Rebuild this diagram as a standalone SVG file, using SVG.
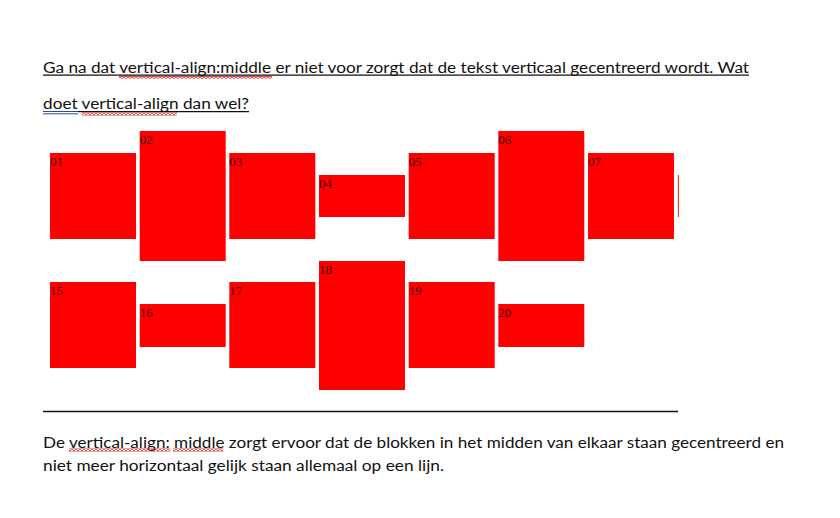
<svg xmlns="http://www.w3.org/2000/svg" width="840" height="518" viewBox="0 0 840 518">
<style>
.t{font-family:Lato,"Open Sans","Liberation Sans",sans-serif;font-size:15.5px;fill:#111}
.b{fill:#ff0000}
.l{font-family:"Liberation Serif","DejaVu Serif",serif;font-size:13px;fill:#3a0000}
.ul{stroke:#111;stroke-width:1.2}
</style>
<defs>
<pattern id="sq" width="4" height="3" patternUnits="userSpaceOnUse">
<path d="M0 2.5 L2 0.5 L4 2.5" fill="none" stroke="#d81818" stroke-width="1.1"/>
</pattern>
</defs>
<rect width="840" height="518" fill="#fff"/>
<g id="question">
<text class="t" x="43" y="72.5" textLength="706" lengthAdjust="spacingAndGlyphs">Ga na dat vertical-align:middle er niet voor zorgt dat de tekst verticaal gecentreerd wordt. Wat</text>
<line class="ul" x1="43" y1="75.2" x2="749" y2="75.2"/>
<rect x="119" y="75.8" width="153" height="3" fill="url(#sq)"/>
<text class="t" x="43" y="109" textLength="206" lengthAdjust="spacingAndGlyphs">doet vertical-align dan wel?</text>
<line class="ul" x1="78" y1="111.7" x2="249" y2="111.7"/>
<line x1="43" y1="111.5" x2="78" y2="111.5" stroke="#2a4aa8" stroke-width="1"/>
<line x1="43" y1="113.8" x2="78" y2="113.8" stroke="#2a4aa8" stroke-width="1"/>
<rect x="82" y="112.5" width="95" height="3" fill="url(#sq)"/>
</g>
<g id="box01"><rect class="b" x="50" y="153" width="86" height="86"/><text class="l" x="50" y="165.5">01</text></g>
<g id="box02"><rect class="b" x="139.7" y="131" width="86" height="130"/><text class="l" x="139.7" y="143.5">02</text></g>
<g id="box03"><rect class="b" x="229.3" y="153" width="86" height="86"/><text class="l" x="229.3" y="165.5">03</text></g>
<g id="box04"><rect class="b" x="319" y="175" width="86" height="42"/><text class="l" x="319" y="187.5">04</text></g>
<g id="box05"><rect class="b" x="408.7" y="153" width="86" height="86"/><text class="l" x="408.7" y="165.5">05</text></g>
<g id="box06"><rect class="b" x="498.3" y="131" width="86" height="130"/><text class="l" x="498.3" y="143.5">06</text></g>
<g id="box07"><rect class="b" x="588" y="153" width="86" height="86"/><text class="l" x="588" y="165.5">07</text></g>
<g id="box08"><rect x="677.8" y="175" width="1.2" height="42" fill="#f04040"/></g>
<g id="box15"><rect class="b" x="50" y="282" width="86" height="86"/><text class="l" x="50" y="294.5">15</text></g>
<g id="box16"><rect class="b" x="139.7" y="304" width="86" height="43"/><text class="l" x="139.7" y="316.5">16</text></g>
<g id="box17"><rect class="b" x="229.3" y="282" width="86" height="86"/><text class="l" x="229.3" y="294.5">17</text></g>
<g id="box18"><rect class="b" x="319" y="261" width="86" height="129"/><text class="l" x="319" y="273.5">18</text></g>
<g id="box19"><rect class="b" x="408.7" y="282" width="86" height="86"/><text class="l" x="408.7" y="294.5">19</text></g>
<g id="box20"><rect class="b" x="498.3" y="304" width="86" height="43"/><text class="l" x="498.3" y="316.5">20</text></g>
<g id="connectors">
<line x1="43" y1="411.5" x2="678" y2="411.5" stroke="#111" stroke-width="1.3"/>
</g>
<g id="answer">
<text class="t" x="43" y="447.5" textLength="741" lengthAdjust="spacingAndGlyphs">De vertical-align: middle zorgt ervoor dat de blokken in het midden van elkaar staan gecentreerd en</text>
<rect x="69" y="448.5" width="101" height="3" fill="url(#sq)"/>
<rect x="173" y="448.5" width="50" height="3" fill="url(#sq)"/>
<text class="t" x="43" y="471" textLength="401" lengthAdjust="spacingAndGlyphs">niet meer horizontaal gelijk staan allemaal op een lijn.</text>
</g>
</svg>
